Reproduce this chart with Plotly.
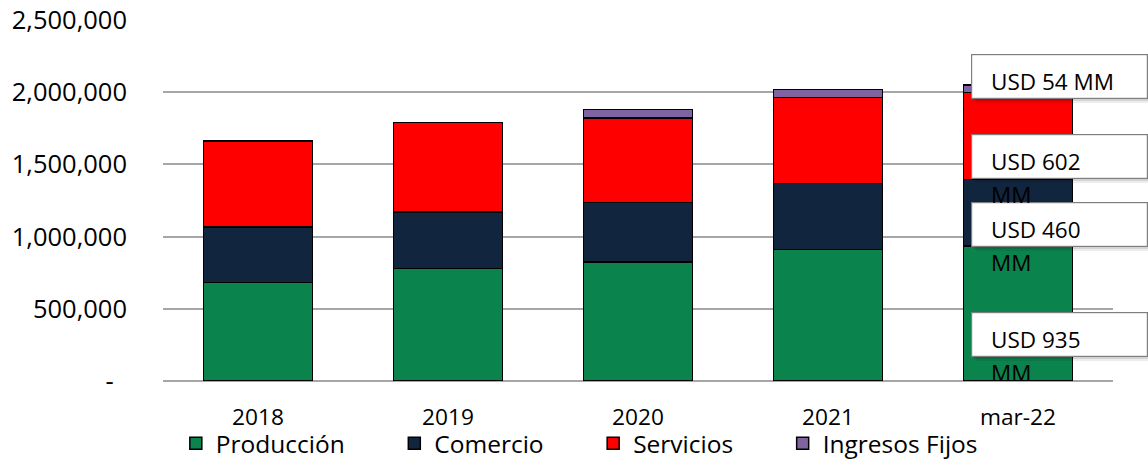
import plotly.graph_objects as go

# Ingresos por sector (miles de USD)
periodos = ["2018", "2019", "2020", "2021", "mar-22"]
produccion = [683000, 780000, 824000, 909000, 935000]
comercio = [383000, 392000, 411000, 460000, 460000]
servicios = [596000, 619000, 588000, 593000, 602000]
ingresos_fijos = [0, 0, 56000, 58000, 54000]

y_tickvals = [0, 500000, 1000000, 1500000, 2000000, 2500000]
y_ticktext = ["-\u00a0\u00a0", "500,000", "1,000,000", "1,500,000", "2,000,000", "2,500,000"]

series = [
    ("Producción", produccion, "#0B834D"),
    ("Comercio", comercio, "#12253F"),
    ("Servicios", servicios, "#FF0000"),
    ("Ingresos Fijos", ingresos_fijos, "#8064A2"),
]

FONT = "Open Sans"
# extra trailing space widens each legend entry
legend_pad = "\u00a0" * 7

fig = go.Figure()
for name, vals, color in series:
    fig.add_trace(go.Bar(
        x=periodos, y=vals, name=name + legend_pad,
        marker=dict(color=color, line=dict(color="black", width=1.5)),
        hoverinfo="skip",
    ))

# callout boxes for the last period, one per segment
ultimo = periodos[-1]
label_yshift = [-21, -12, -20, 12]
base = 0
for (name, vals, color), dy in zip(series, label_yshift):
    v = vals[-1]
    mid = base + v / 2
    base += v
    texto = f"USD {round(v / 1000)} MM"
    if len(texto) > 9:
        lineas = texto.rsplit(" ", 1)
    else:
        lineas = [texto]
    # soft shadow
    for sx, sy, a in [(5, -5, 0.07), (3, -3, 0.10)]:
        fig.add_annotation(
            x=ultimo, y=mid, xref="x", yref="y", text=" ", showarrow=False,
            xanchor="left", yanchor="middle", xshift=-47 + sx, yshift=dy + sy,
            width=173, height=41, bgcolor=f"rgba(0,0,0,{a})", borderwidth=0,
        )
    fig.add_annotation(
        x=ultimo, y=mid, xref="x", yref="y", text=" ", showarrow=False,
        xanchor="left", yanchor="middle", xshift=-47, yshift=dy,
        width=173, height=41, bgcolor="white", bordercolor="#7F7F7F", borderwidth=1.2,
    )
    for i, linea in enumerate(lineas):
        fig.add_annotation(
            x=ultimo, y=mid, xref="x", yref="y", text=linea, showarrow=False,
            xanchor="left", yanchor="middle", xshift=-29, yshift=dy - 5 - 33 * i,
            font=dict(family=FONT, size=22.5, color="black"),
        )

fig.update_layout(
    width=1148, height=460,
    margin=dict(l=163, r=35, t=20, b=79, autoexpand=False),
    plot_bgcolor="white", paper_bgcolor="white",
    barmode="stack", bargap=0.426,
    font=dict(family=FONT, color="black"),
    showlegend=True,
    legend=dict(
        orientation="h", x=0.0135, y=-0.11, xanchor="left", yanchor="top",
        font=dict(family=FONT, size=24.5, color="black"),
        bgcolor="rgba(0,0,0,0)", traceorder="normal",
    ),
    xaxis=dict(
        type="category", range=[-0.5, len(periodos) - 0.5], autorange=False,
        showgrid=False, showline=False, zeroline=False,
        ticks="", tickfont=dict(family=FONT, size=22.7, color="black"),
        ticklabelstandoff=20,
    ),
    yaxis=dict(
        range=[0, 2500000], autorange=False, tickvals=y_tickvals, ticktext=y_ticktext,
        showgrid=True, gridcolor="#A6A6A6", gridwidth=1.5,
        zeroline=True, zerolinecolor="#A6A6A6", zerolinewidth=1.5,
        showline=False, ticks="",
        tickfont=dict(family=FONT, size=25.5, color="black"),
        ticklabelstandoff=35,
    ),
)

fig.write_html("out.html")
